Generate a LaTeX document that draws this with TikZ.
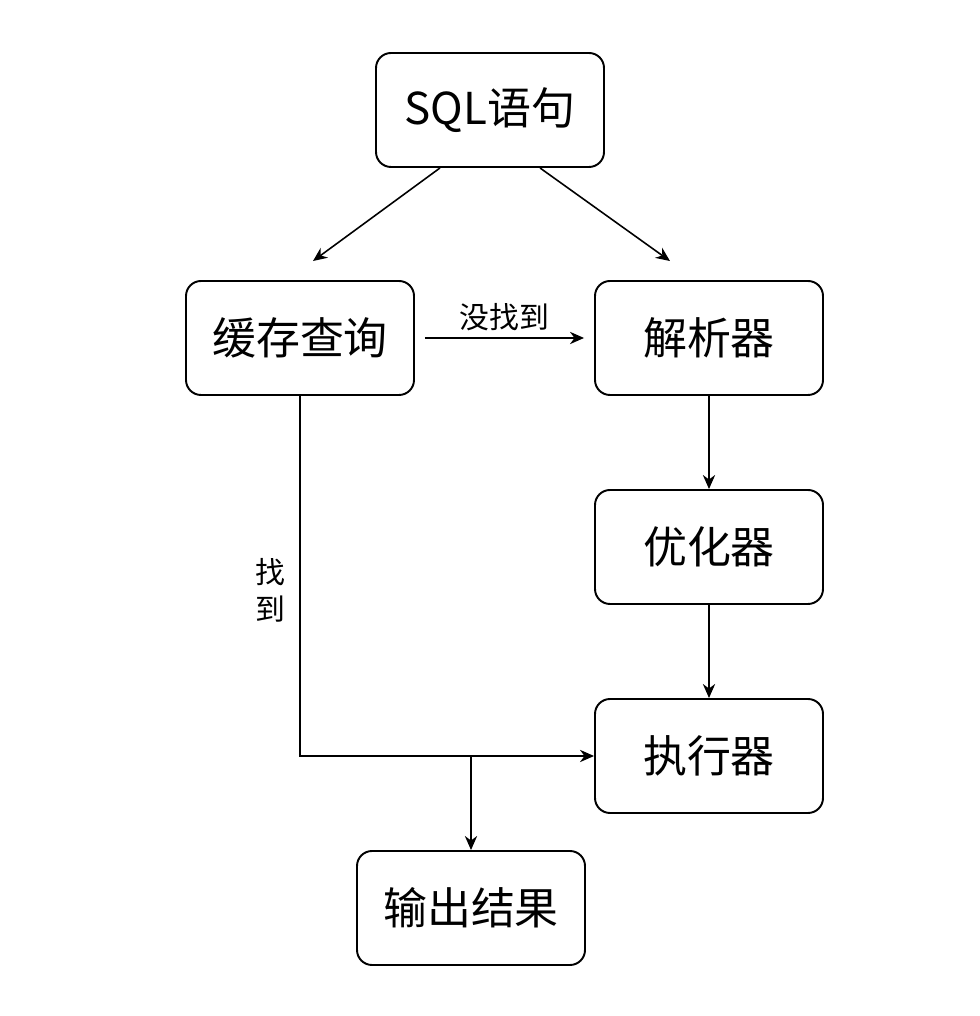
\documentclass[tikz,border=0pt]{standalone}
\usepackage{fontspec}
\usepackage{tikz}
\usetikzlibrary{arrows.meta}
\newfontfamily\cjk{Noto Sans CJK SC}

\begin{document}
\begin{tikzpicture}[
    stepbox/.style={draw, line width=1.1pt, rounded corners=0.3cm, minimum width=4.56cm, minimum height=2.28cm, font=\cjk\fontsize{25}{30}\selectfont},
    flow/.style={-{Stealth[length=8pt,width=7pt]}, line width=0.9pt},
    lbl/.style={font=\cjk\fontsize{17}{21.5}\selectfont}
]
\useasboundingbox (0,0) rectangle (19.6,20.32);

% Caixas
\node[stepbox] (sql) at (9.8,18.12) {SQL语句};
\node[stepbox] (cache) at (6.0,13.56) {缓存查询};
\node[stepbox] (parser) at (14.18,13.56) {解析器};
\node[stepbox] (opt) at (14.18,9.38) {优化器};
\node[stepbox] (exec) at (14.18,5.2) {执行器};
\node[stepbox] (out) at (9.42,2.16) {输出结果};

% Setas
\draw[flow] ([xshift=-1cm]sql.south) -- ([xshift=0.26cm,yshift=0.38cm]cache.north);
\draw[flow] ([xshift=1cm]sql.south) -- ([xshift=-0.78cm,yshift=0.38cm]parser.north);
\draw[flow] ([xshift=0.2cm]cache.east) -- ([xshift=-0.2cm]parser.west)
    node[lbl, midway, above=0.0cm] (miss) {没找到};
\draw[flow] (parser.south) -- (opt.north);
\draw[flow] (opt.south) -- (exec.north);
\draw[flow] (cache.south) |- (exec.west)
    node[lbl, pos=0.27, left=0.15cm, align=center] (hit) {找\\到};
\draw[flow] (out.north |- exec.west) -- (out.north);
\end{tikzpicture}
\end{document}
